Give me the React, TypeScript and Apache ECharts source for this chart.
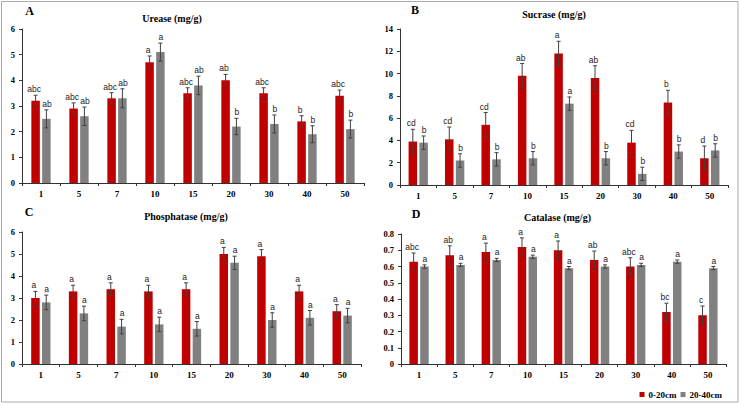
import React, { useEffect, useRef } from "react";
import * as echarts from "echarts";

const categories = ["1", "5", "7", "10", "15", "20", "30", "40", "50"];
const seriesNames = ["0-20cm", "20-40cm"];

// A Urease
const ureaseTop = [3.2, 2.9, 3.3, 4.7, 3.5, 4.0, 3.5, 2.4, 3.4];
const ureaseTopErr = [0.22, 0.22, 0.22, 0.25, 0.21, 0.23, 0.21, 0.22, 0.22];
const ureaseTopLbl = ["abc", "abc", "abc", "a", "abc", "ab", "abc", "b", "abc"];
const ureaseSub = [2.5, 2.6, 3.3, 5.1, 3.8, 2.2, 2.3, 1.9, 2.1];
const ureaseSubErr = [0.35, 0.36, 0.37, 0.35, 0.36, 0.32, 0.35, 0.33, 0.35];
const ureaseSubLbl = ["ab", "ab", "ab", "a", "ab", "b", "b", "b", "b"];

// B Sucrase
const sucraseTop = [3.9, 4.1, 5.4, 9.8, 11.8, 9.6, 3.8, 7.4, 2.4];
const sucraseTopErr = [1.1, 1.1, 1.1, 1.1, 1.1, 1.1, 1.1, 1.1, 1.1];
const sucraseTopLbl = ["cd", "cd", "cd", "ab", "a", "ab", "cd", "b", "d"];
const sucraseSub = [3.8, 2.2, 2.3, 2.4, 7.3, 2.4, 1.0, 3.0, 3.1];
const sucraseSubErr = [0.6, 0.6, 0.6, 0.6, 0.6, 0.6, 0.6, 0.6, 0.6];
const sucraseSubLbl = ["b", "b", "b", "b", "a", "b", "b", "b", "b"];

// C Phosphatase
const phosTop = [3.0, 3.3, 3.4, 3.3, 3.4, 5.0, 4.9, 3.3, 2.4];
const phosTopErr = [0.3, 0.28, 0.29, 0.28, 0.29, 0.3, 0.3, 0.28, 0.3];
const phosTopLbl = ["a", "a", "a", "a", "a", "a", "a", "a", "a"];
const phosSub = [2.8, 2.3, 1.7, 1.8, 1.6, 4.6, 2.0, 2.1, 2.2];
const phosSubErr = [0.33, 0.33, 0.33, 0.33, 0.33, 0.3, 0.33, 0.33, 0.33];
const phosSubLbl = ["a", "a", "a", "a", "a", "a", "a", "a", "a"];

// D Catalase
const catTop = [0.63, 0.67, 0.69, 0.72, 0.7, 0.64, 0.6, 0.32, 0.3];
const catTopErr = [0.053, 0.057, 0.054, 0.056, 0.057, 0.055, 0.054, 0.054, 0.057];
const catTopLbl = ["abc", "ab", "a", "a", "a", "ab", "abc", "bc", "c"];
const catSub = [0.6, 0.61, 0.64, 0.66, 0.59, 0.6, 0.61, 0.63, 0.59];
const catSubErr = [0.01, 0.01, 0.01, 0.01, 0.01, 0.01, 0.01, 0.01, 0.01];
const catSubLbl = ["a", "a", "a", "a", "a", "a", "a", "a", "a"];

const panelLetters = ["A", "B", "C", "D"];
const panelTitles = ["Urease (mg/g)", "Sucrase (mg/g)", "Phosphatase (mg/g)", "Catalase (mg/g)"];
const yMax = [6, 14, 6, 0.8];
const yInterval = [1, 2, 1, 0.1];

const panels = [
  { top: ureaseTop, topErr: ureaseTopErr, topLbl: ureaseTopLbl, sub: ureaseSub, subErr: ureaseSubErr, subLbl: ureaseSubLbl },
  { top: sucraseTop, topErr: sucraseTopErr, topLbl: sucraseTopLbl, sub: sucraseSub, subErr: sucraseSubErr, subLbl: sucraseSubLbl },
  { top: phosTop, topErr: phosTopErr, topLbl: phosTopLbl, sub: phosSub, subErr: phosSubErr, subLbl: phosSubLbl },
  { top: catTop, topErr: catTopErr, topLbl: catTopLbl, sub: catSub, subErr: catSubErr, subLbl: catSubLbl },
];

const RED = "#C00000";
const GRAY = "#808080";
const SERIF = "'Liberation Serif', 'Times New Roman', serif";
const SANS = "'Liberation Sans', Arial, sans-serif";
const BAR_W = 8.5;
const BAR_GAP_PX = 2.3;

const grids = [
  { left: 22, top: 29, width: 342, height: 154 },
  { left: 400, top: 29, width: 328, height: 156 },
  { left: 22, top: 232, width: 339, height: 132 },
  { left: 401, top: 234, width: 325, height: 130 },
];
const titlePos = [
  { lx: 29.5, ly: 11, tx: 172, ty: 18.5 },
  { lx: 415, ly: 10, tx: 554, ty: 14 },
  { lx: 29, ly: 212, tx: 186, ty: 216 },
  { lx: 416, ly: 214, tx: 557.5, ty: 217.5 },
];

function errSeries(k: number, vals: number[], errs: number[], lbls: string[], side: number, textDx: number) {
  const off = side * (BAR_W + BAR_GAP_PX) / 2;
  return {
    type: "custom",
    xAxisIndex: k,
    yAxisIndex: k,
    silent: true,
    z: 5,
    data: vals.map((v, i) => [i, v, errs[i]]),
    renderItem: (params: any, api: any) => {
      const i = api.value(0);
      const v = api.value(1);
      const e = api.value(2);
      const t = api.coord([i, v + e]);
      const b = api.coord([i, v - e]);
      const x = t[0] + off;
      const cap = 2;
      const ls = { stroke: "#404040", lineWidth: 1 };
      return {
        type: "group",
        children: [
          { type: "line", shape: { x1: x, y1: t[1], x2: x, y2: b[1] }, style: ls },
          { type: "line", shape: { x1: x - cap, y1: t[1], x2: x + cap, y2: t[1] }, style: ls },
          { type: "line", shape: { x1: x - cap, y1: b[1], x2: x + cap, y2: b[1] }, style: ls },
          {
            type: "text",
            x: x + textDx,
            y: t[1] - 1.5,
            style: {
              text: lbls[params.dataIndex],
              fill: "#222",
              font: `8.5px ${SANS}`,
              textAlign: "center",
              textVerticalAlign: "bottom",
            },
          },
        ],
      };
    },
  };
}

export default function App() {
  const ref = useRef<HTMLDivElement>(null);
  useEffect(() => {
    document.body.style.margin = "0";
    const chart = echarts.init(ref.current!, undefined, { renderer: "svg" });
    const axisLineStyle = { color: "#333", width: 1 };
    const series: any[] = [];
    panels.forEach((p, k) => {
      series.push({
        name: seriesNames[0], type: "bar", xAxisIndex: k, yAxisIndex: k,
        data: p.top, barWidth: BAR_W, barGap: `${(BAR_GAP_PX / BAR_W) * 100}%`,
        itemStyle: { color: RED },
      });
      series.push({
        name: seriesNames[1], type: "bar", xAxisIndex: k, yAxisIndex: k,
        data: p.sub, barWidth: BAR_W, barGap: `${(BAR_GAP_PX / BAR_W) * 100}%`,
        itemStyle: { color: GRAY },
      });
      series.push(errSeries(k, p.top, p.topErr, p.topLbl, -1, -1.5));
      series.push(errSeries(k, p.sub, p.subErr, p.subLbl, 1, 0.5));
    });
    const graphics: any[] = [
      { type: "rect", shape: { x: 1.5, y: 1.5, width: 736.5, height: 400.5 }, style: { fill: "none", stroke: "#aaa", lineWidth: 1 }, silent: true },
    ];
    titlePos.forEach((t, k) => {
      graphics.push({ type: "text", x: t.lx, y: t.ly, style: { text: panelLetters[k], font: `bold 12px ${SERIF}`, fill: "#000", textAlign: "center", textVerticalAlign: "middle" } });
      graphics.push({ type: "text", x: t.tx, y: t.ty, style: { text: panelTitles[k], font: `bold 10px ${SERIF}`, fill: "#000", textAlign: "center", textVerticalAlign: "middle" } });
    });
    chart.setOption({
      animation: false,
      backgroundColor: "#fff",
      grid: grids.map((g) => ({ ...g, containLabel: false })),
      xAxis: grids.map((_, k) => ({
        type: "category",
        gridIndex: k,
        data: categories,
        axisLine: { lineStyle: axisLineStyle },
        axisTick: { show: true, length: 3, lineStyle: axisLineStyle },
        axisLabel: { fontFamily: SERIF, fontWeight: "bold", fontSize: 9, color: "#000", margin: 6 },
        splitLine: { show: false },
      })),
      yAxis: grids.map((_, k) => ({
        type: "value",
        gridIndex: k,
        min: 0,
        max: yMax[k],
        interval: yInterval[k],
        axisLine: { show: true, lineStyle: axisLineStyle },
        axisTick: { show: true, length: 3, lineStyle: axisLineStyle },
        axisLabel: {
          fontFamily: SERIF, fontWeight: "bold", fontSize: 8.5, color: "#000", margin: 7,
          formatter: (v: number) => (k === 3 ? (v === 0 ? "0" : v.toFixed(1)) : String(v)),
        },
        splitLine: { show: false },
      })),
      legend: {
        data: seriesNames,
        right: 13,
        top: 385,
        icon: "rect",
        itemWidth: 5,
        itemHeight: 5,
        itemGap: 4,
        textStyle: { fontFamily: SERIF, fontWeight: "bold", fontSize: 9, color: "#000", padding: [0, 0, 0, -1] },
      },
      graphic: graphics,
      series,
    });
    return () => chart.dispose();
  }, []);
  return <div ref={ref} style={{ width: 740, height: 405 }} />;
}
